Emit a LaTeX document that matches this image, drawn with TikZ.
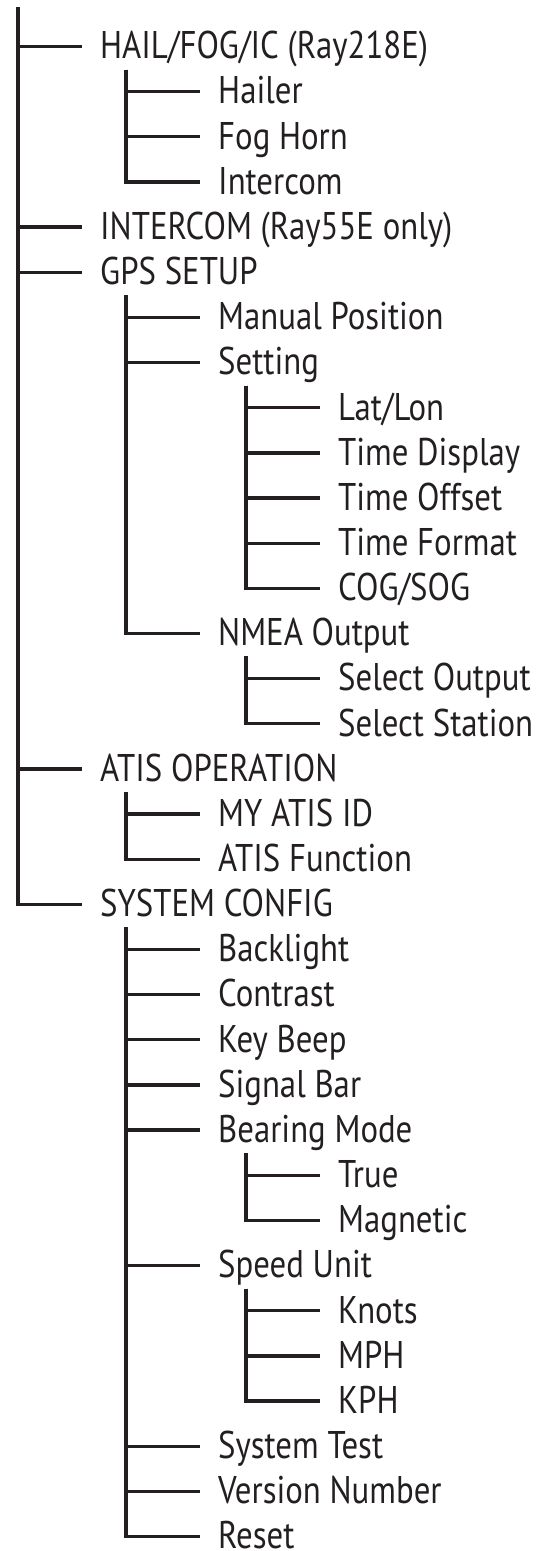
\documentclass[tikz,border=0pt]{standalone}
\usepackage{fontspec}
\setmainfont[FakeStretch=0.85]{PT Sans}
\definecolor{ink}{HTML}{231F20}
\newcommand\ry[1]{46.5+45.15*#1}
\begin{document}
\begin{tikzpicture}[x=1pt,y=-1pt,
  lbl/.style={anchor=west,inner xsep=0pt,inner ysep=0pt,text height=24.6pt,text depth=0pt,
    font=\fontsize{38.6}{39}\selectfont,text=ink},
  conn/.style={draw=ink,line width=3.3pt,shorten >=18pt}]
\useasboundingbox (0,0) rectangle (546,1551);
% trunk tops
\coordinate (tR) at (18,7);
\coordinate (tH) at (126,{\ry{0}+23});
\coordinate (tG) at (126,{\ry{5}+23});
\coordinate (tS) at (246,{\ry{7}+23});
\coordinate (tN) at (246,{\ry{13}+23});
\coordinate (tA) at (126,{\ry{16}+23});
\coordinate (tC) at (126,{\ry{19}+23});
\coordinate (tB) at (246,{\ry{24}+23});
\coordinate (tU) at (246,{\ry{27}+23});
% labels
\node[lbl] (hail) at (100,{\ry{0}}) {HAIL/FOG/IC (Ray218E)};
\node[lbl] (hailer) at (218,{\ry{1}}) {Hailer};
\node[lbl] (fog) at (218,{\ry{2}}) {Fog Horn};
\node[lbl] (icom) at (218,{\ry{3}}) {Intercom};
\node[lbl] (intercom) at (100,{\ry{4}}) {INTERCOM (Ray55E only)};
\node[lbl] (gps) at (100,{\ry{5}}) {GPS SETUP};
\node[lbl] (manual) at (218,{\ry{6}}) {Manual Position};
\node[lbl] (setting) at (218,{\ry{7}}) {Setting};
\node[lbl] (latlon) at (338,{\ry{8}}) {Lat/Lon};
\node[lbl] (tdisp) at (338,{\ry{9}}) {Time Display};
\node[lbl] (toff) at (338,{\ry{10}}) {Time Offset};
\node[lbl] (tfmt) at (338,{\ry{11}}) {Time Format};
\node[lbl] (cog) at (338,{\ry{12}}) {COG/SOG};
\node[lbl] (nmea) at (218,{\ry{13}}) {NMEA Output};
\node[lbl] (selout) at (338,{\ry{14}}) {Select Output};
\node[lbl] (selst) at (338,{\ry{15}}) {Select Station};
\node[lbl] (atis) at (100,{\ry{16}}) {ATIS OPERATION};
\node[lbl] (myatis) at (218,{\ry{17}}) {MY ATIS ID};
\node[lbl] (atisfn) at (218,{\ry{18}}) {ATIS Function};
\node[lbl] (sys) at (100,{\ry{19}}) {SYSTEM CONFIG};
\node[lbl] (back) at (218,{\ry{20}}) {Backlight};
\node[lbl] (contrast) at (218,{\ry{21}}) {Contrast};
\node[lbl] (beep) at (218,{\ry{22}}) {Key Beep};
\node[lbl] (sigbar) at (218,{\ry{23}}) {Signal Bar};
\node[lbl] (bearing) at (218,{\ry{24}}) {Bearing Mode};
\node[lbl] (true) at (338,{\ry{25}}) {True};
\node[lbl] (magn) at (338,{\ry{26}}) {Magnetic};
\node[lbl] (speed) at (218,{\ry{27}}) {Speed Unit};
\node[lbl] (knots) at (338,{\ry{28}}) {Knots};
\node[lbl] (mph) at (338,{\ry{29}}) {MPH};
\node[lbl] (kph) at (338,{\ry{30}}) {KPH};
\node[lbl] (systest) at (218,{\ry{31}}) {System Test};
\node[lbl] (version) at (218,{\ry{32}}) {Version Number};
\node[lbl] (reset) at (218,{\ry{33}}) {Reset};
% connectors
\foreach \n in {hail,intercom,gps,atis,sys} \draw[conn] (tR) |- (\n.west);
\foreach \n in {hailer,fog,icom} \draw[conn] (tH) |- (\n.west);
\foreach \n in {manual,setting,nmea} \draw[conn] (tG) |- (\n.west);
\foreach \n in {latlon,tdisp,toff,tfmt,cog} \draw[conn] (tS) |- (\n.west);
\foreach \n in {selout,selst} \draw[conn] (tN) |- (\n.west);
\foreach \n in {myatis,atisfn} \draw[conn] (tA) |- (\n.west);
\foreach \n in {back,contrast,beep,sigbar,bearing,speed,systest,version,reset} \draw[conn] (tC) |- (\n.west);
\foreach \n in {true,magn} \draw[conn] (tB) |- (\n.west);
\foreach \n in {knots,mph,kph} \draw[conn] (tU) |- (\n.west);
\end{tikzpicture}
\end{document}
